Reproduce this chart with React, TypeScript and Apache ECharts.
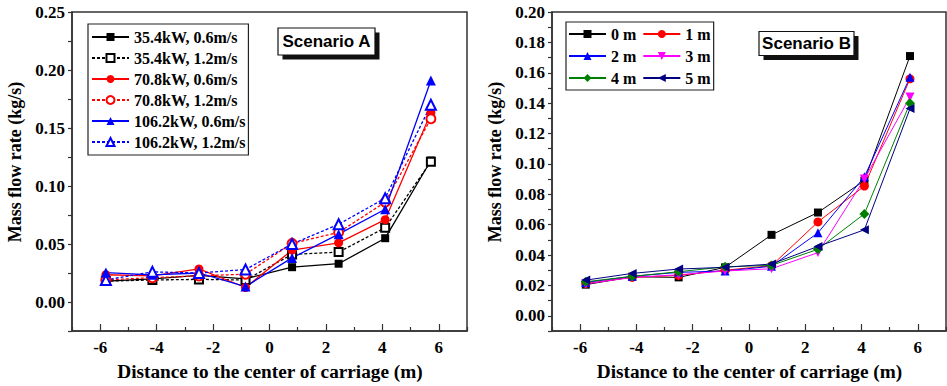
import React, { useEffect, useRef } from "react";
import * as echarts from "echarts";

// ---------- data ----------
const xPos = [-5.8, -4.15, -2.5, -0.85, 0.8, 2.45, 4.1, 5.72];

const namesA = [
  "35.4kW, 0.6m/s",
  "35.4kW, 1.2m/s",
  "70.8kW, 0.6m/s",
  "70.8kW, 1.2m/s",
  "106.2kW, 0.6m/s",
  "106.2kW, 1.2m/s",
];
const a354_06 = [0.018, 0.020, 0.023, 0.020, 0.030, 0.033, 0.055, 0.122];
const a354_12 = [0.018, 0.019, 0.0195, 0.019, 0.041, 0.043, 0.064, 0.121];
const a708_06 = [0.0235, 0.0225, 0.0285, 0.0125, 0.0447, 0.051, 0.071, 0.163];
const a708_12 = [0.019, 0.021, 0.0225, 0.024, 0.0505, 0.060, 0.086, 0.158];
const a1062_06 = [0.0254, 0.0234, 0.025, 0.0133, 0.038, 0.0585, 0.080, 0.191];
const a1062_12 = [0.019, 0.026, 0.025, 0.028, 0.050, 0.067, 0.0895, 0.170];

const namesB = ["0 m", "1 m", "2 m", "3 m", "4 m", "5 m"];
const b0 = [0.0205, 0.0257, 0.0253, 0.0319, 0.0533, 0.068, 0.089, 0.171];
const b1 = [0.0213, 0.0253, 0.0266, 0.030, 0.033, 0.0618, 0.0854, 0.156];
const b2 = [0.022, 0.026, 0.0286, 0.0295, 0.0326, 0.0546, 0.0915, 0.157];
const b3 = [0.021, 0.0253, 0.027, 0.0295, 0.031, 0.0416, 0.090, 0.144];
const b4 = [0.0224, 0.026, 0.029, 0.0323, 0.0332, 0.0438, 0.0671, 0.140];
const b5 = [0.0235, 0.0279, 0.0308, 0.0319, 0.0341, 0.0457, 0.0566, 0.1364];

const xMajor = [-6, -4, -2, 0, 2, 4, 6];
const xMinor = [-7, -5, -3, -1, 1, 3, 5, 7];
const yLabelsA = [0, 0.05, 0.1, 0.15, 0.2, 0.25];
const yTicksA = [-0.025, 0, 0.025, 0.05, 0.075, 0.1, 0.125, 0.15, 0.175, 0.2, 0.225, 0.25];
const yLabelsB = [0, 0.02, 0.04, 0.06, 0.08, 0.1, 0.12, 0.14, 0.16, 0.18, 0.2];
const yTicksB = [-0.01, 0, 0.01, 0.02, 0.03, 0.04, 0.05, 0.06, 0.07, 0.08, 0.09, 0.1, 0.11, 0.12, 0.13, 0.14, 0.15, 0.16, 0.17, 0.18, 0.19, 0.2];

const xTitle = "Distance to the center of carriage (m)";
const yTitle = "Mass flow rate (kg/s)";

// ---------- styles ----------
const SERIF = '"Liberation Serif", "Times New Roman", serif';
const SANS = '"Liberation Sans", Arial, sans-serif';
const FRAME = "#333";

const pair = (ys: number[]) => ys.map((y, i) => [xPos[i], y]);

function App() {
  const ref = useRef<HTMLDivElement>(null);
  useEffect(() => {
    if (!ref.current) return;
    const chart = echarts.init(ref.current, null, { renderer: "svg" });

    const labelStyle = {
      fontFamily: SERIF,
      fontWeight: "bold" as const,
      fontSize: 17,
      color: "#000",
    };
    const mkXMain = (g: number) => ({
      type: "value",
      gridIndex: g,
      position: "bottom",
      min: -7,
      max: 7,
      axisLine: { show: true, onZero: false, lineStyle: { color: FRAME, width: 1.5 } },
      axisTick: { show: true, inside: true, length: 7, customValues: xMajor, lineStyle: { color: FRAME, width: 1.2 } },
      axisLabel: { customValues: xMajor, margin: 8, formatter: (v: number) => String(v), ...labelStyle },
      splitLine: { show: false },
    });
    const mkXMinor = (g: number) => ({
      type: "value",
      gridIndex: g,
      position: "bottom",
      min: -7,
      max: 7,
      axisLine: { show: false, onZero: false },
      axisTick: { show: true, inside: true, length: 4, customValues: xMinor, lineStyle: { color: FRAME, width: 1.2 } },
      axisLabel: { show: false },
      splitLine: { show: false },
    });
    const mkY = (g: number, min: number, max: number, ticks: number[], labels: number[]) => ({
      type: "value",
      gridIndex: g,
      min,
      max,
      axisLine: { show: true, onZero: false, lineStyle: { color: FRAME, width: 1.5 } },
      axisTick: { show: true, inside: false, length: 4, customValues: ticks, lineStyle: { color: FRAME, width: 1.2 } },
      axisLabel: { customValues: labels, margin: 7, formatter: (v: number) => v.toFixed(2), ...labelStyle },
      splitLine: { show: false },
    });

    const lineA = (
      name: string,
      data: number[],
      color: string,
      symbol: string,
      size: number,
      dashed: boolean
    ) => ({
      name,
      type: "line",
      xAxisIndex: 0,
      yAxisIndex: 0,
      data: pair(data),
      symbol,
      symbolSize: size,
      showAllSymbol: true,
      lineStyle: { color, width: 1.3, type: dashed ? [3, 2] : "solid" },
      itemStyle: { color, borderColor: color, borderWidth: dashed ? 1.2 : 0 },
      z: 3,
    });
    const lineB = (name: string, data: number[], color: string, symbol: string, size: number, rot: number) => ({
      name,
      type: "line",
      xAxisIndex: 2,
      yAxisIndex: 1,
      data: pair(data),
      symbol,
      symbolSize: size,
      symbolRotate: rot,
      lineStyle: { color, width: 1 },
      itemStyle: { color },
      z: 3,
    });

    const legendText = {
      fontFamily: SERIF,
      fontWeight: "bold" as const,
      fontSize: 16,
      lineHeight: 16,
      color: "#000",
    };

    chart.setOption({
      animation: false,
      backgroundColor: "#fff",
      textStyle: { fontFamily: SERIF, fontWeight: "bold" },
      grid: [
        { left: 72, right: 480, top: 12, bottom: 55, show: true, borderColor: FRAME, borderWidth: 1.5, backgroundColor: "transparent" },
        { left: 552, right: 1, top: 12, bottom: 55, show: true, borderColor: FRAME, borderWidth: 1.5, backgroundColor: "transparent" },
      ],
      xAxis: [mkXMain(0), mkXMinor(0), mkXMain(1), mkXMinor(1)],
      yAxis: [mkY(0, -0.025, 0.25, yTicksA, yLabelsA), mkY(1, -0.01, 0.2, yTicksB, yLabelsB)],
      legend: [
        {
          data: namesA,
          orient: "vertical",
          left: 88,
          top: 24,
          itemWidth: 37,
          itemHeight: 10,
          itemGap: 5,
          padding: [5, 3, 5, 3],
          borderColor: "#222",
          borderWidth: 1.2,
          backgroundColor: "#fff",
          textStyle: legendText,
          selectedMode: false,
        },
        {
          data: namesB,
          orient: "horizontal",
          left: 566,
          top: 22,
          width: 160,
          itemWidth: 37,
          itemHeight: 10,
          itemGap: 6,
          padding: [4, 3, 4, 2],
          borderColor: "#222",
          borderWidth: 1.2,
          backgroundColor: "#fff",
          textStyle: legendText,
          selectedMode: false,
        },
      ],
      graphic: [
        { type: "rect", shape: { x: 282.5, y: 32.5, width: 97, height: 27 }, style: { fill: "#111" }, z: 10 },
        { type: "rect", shape: { x: 278, y: 28, width: 97, height: 27 }, style: { fill: "#fff", stroke: "#111", lineWidth: 1.2 }, z: 11 },
        {
          type: "text", x: 326.5, y: 41.5, z: 12,
          style: { text: "Scenario A", font: `bold 17px ${SANS}`, fill: "#000", align: "center", verticalAlign: "middle" },
        },
        { type: "rect", shape: { x: 763.5, y: 36, width: 95, height: 24 }, style: { fill: "#111" }, z: 10 },
        { type: "rect", shape: { x: 759, y: 31.5, width: 95, height: 24 }, style: { fill: "#fff", stroke: "#111", lineWidth: 1.2 }, z: 11 },
        {
          type: "text", x: 806.5, y: 43.5, z: 12,
          style: { text: "Scenario B", font: `bold 17px ${SANS}`, fill: "#000", align: "center", verticalAlign: "middle" },
        },
        {
          type: "text", x: 15, y: 162, rotation: Math.PI / 2, z: 12,
          style: { text: yTitle, font: `bold 18px ${SERIF}`, fill: "#000", align: "center", verticalAlign: "middle" },
        },
        {
          type: "text", x: 495, y: 162, rotation: Math.PI / 2, z: 12,
          style: { text: yTitle, font: `bold 18px ${SERIF}`, fill: "#000", align: "center", verticalAlign: "middle" },
        },
        {
          type: "text", x: 270, y: 372, scaleX: 1.07, z: 12,
          style: { text: xTitle, font: `bold 18px ${SERIF}`, fill: "#000", align: "center", verticalAlign: "middle" },
        },
        {
          type: "text", x: 749.5, y: 372, scaleX: 1.07, z: 12,
          style: { text: xTitle, font: `bold 18px ${SERIF}`, fill: "#000", align: "center", verticalAlign: "middle" },
        },
      ],
      series: [
        lineA(namesA[0], a354_06, "#000000", "rect", 8, false),
        lineA(namesA[1], a354_12, "#000000", "emptyRect", 8, true),
        lineA(namesA[2], a708_06, "#ff0000", "circle", 9, false),
        lineA(namesA[3], a708_12, "#ff0000", "emptyCircle", 9, true),
        lineA(namesA[4], a1062_06, "#0000ff", "triangle", 10, false),
        lineA(namesA[5], a1062_12, "#0000ff", "emptyTriangle", 10, true),
        lineB(namesB[0], b0, "#000000", "rect", 8, 0),
        lineB(namesB[1], b1, "#ff0000", "circle", 9, 0),
        lineB(namesB[2], b2, "#0000ff", "triangle", 9, 0),
        lineB(namesB[3], b3, "#ff00ff", "triangle", 9, 180),
        lineB(namesB[4], b4, "#008000", "diamond", 10, 0),
        lineB(namesB[5], b5, "#000080", "triangle", 9, 90),
      ],
    });
    return () => chart.dispose();
  }, []);
  return (
    <div
      ref={ref}
      style={{ position: "absolute", left: 0, top: 0, width: 947, height: 386 }}
    />
  );
}

export default App;
